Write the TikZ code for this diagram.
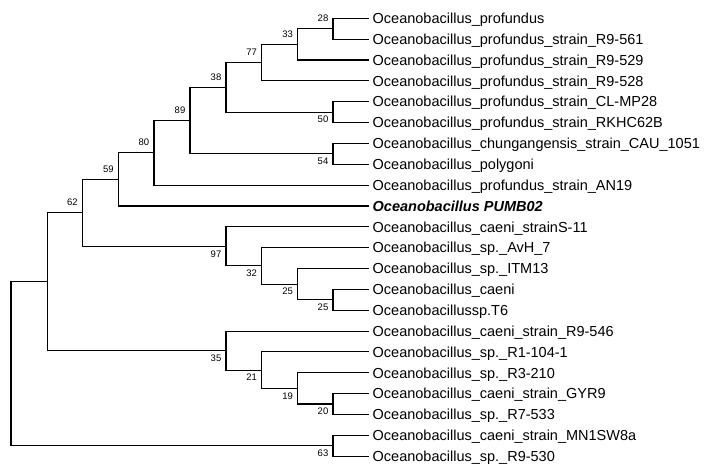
\documentclass[tikz,border=0pt]{standalone}
\usepackage{fontspec}
\setmainfont{Liberation Sans}
\begin{document}
\begin{tikzpicture}[x=1pt,y=-1pt,
  br/.style={draw=black,line width=1.1pt},
  leaf/.style={anchor=west,inner xsep=3.5pt,inner ysep=0pt,text height=10.5pt,text depth=0pt,font=\fontsize{14.5}{16}\selectfont},
  bs/.style={inner sep=0pt,font=\fontsize{9.5}{11}\selectfont},
  bsa/.style={bs,xshift=-10pt,yshift=10.3pt},
  bsb/.style={bs,xshift=-10pt,yshift=-7.5pt}]
\useasboundingbox (0,0) rectangle (710,474);
% leaves
\node[leaf] (L0)  at (369,18.3)   {Oceanobacillus\_profundus};
\node[leaf] (L1)  at (369,39.15)  {Oceanobacillus\_profundus\_strain\_R9-561};
\node[leaf] (L2)  at (369,60.0)   {Oceanobacillus\_profundus\_strain\_R9-529};
\node[leaf] (L3)  at (369,80.85)  {Oceanobacillus\_profundus\_strain\_R9-528};
\node[leaf] (L4)  at (369,101.7)  {Oceanobacillus\_profundus\_strain\_CL-MP28};
\node[leaf] (L5)  at (369,122.55) {Oceanobacillus\_profundus\_strain\_RKHC62B};
\node[leaf] (L6)  at (369,143.4)  {Oceanobacillus\_chungangensis\_strain\_CAU\_1051};
\node[leaf] (L7)  at (369,164.25) {Oceanobacillus\_polygoni};
\node[leaf] (L8)  at (369,185.1)  {Oceanobacillus\_profundus\_strain\_AN19};
\node[leaf] (L9)  at (369,205.95) {\bfseries\itshape Oceanobacillus PUMB02};
\node[leaf] (L10) at (369,226.8)  {Oceanobacillus\_caeni\_strainS-11};
\node[leaf] (L11) at (369,247.65) {Oceanobacillus\_sp.\_AvH\_7};
\node[leaf] (L12) at (369,268.5)  {Oceanobacillus\_sp.\_ITM13};
\node[leaf] (L13) at (369,289.35) {Oceanobacillus\_caeni};
\node[leaf] (L14) at (369,310.2)  {Oceanobacillussp.T6};
\node[leaf] (L15) at (369,331.05) {Oceanobacillus\_caeni\_strain\_R9-546};
\node[leaf] (L16) at (369,351.9)  {Oceanobacillus\_sp.\_R1-104-1};
\node[leaf] (L17) at (369,372.75) {Oceanobacillus\_sp.\_R3-210};
\node[leaf] (L18) at (369,393.6)  {Oceanobacillus\_caeni\_strain\_GYR9};
\node[leaf] (L19) at (369,414.45) {Oceanobacillus\_sp.\_R7-533};
\node[leaf] (L20) at (369,435.3)  {Oceanobacillus\_caeni\_strain\_MN1SW8a};
\node[leaf] (L21) at (369,456.15) {Oceanobacillus\_sp.\_R9-530};
% internal nodes
\coordinate (n28)  at (333,28.725);
\coordinate (n33)  at (297.7,44.36);
\coordinate (n77)  at (261.7,62.61);
\coordinate (n50)  at (333,112.125);
\coordinate (n38)  at (226,87.37);
\coordinate (n54)  at (333,153.825);
\coordinate (n89)  at (190,120.6);
\coordinate (n80)  at (154,152.85);
\coordinate (n59)  at (118.3,179.4);
\coordinate (n25b) at (333,299.775);
\coordinate (n25a) at (297.7,284.14);
\coordinate (n32)  at (261.7,265.9);
\coordinate (n97)  at (226,246.35);
\coordinate (n62)  at (82.3,212.9);
\coordinate (n20)  at (333,404.0);
\coordinate (n19)  at (297.7,388.4);
\coordinate (n21)  at (261.7,370.15);
\coordinate (n35)  at (226,350.6);
\coordinate (nA)   at (47.7,281.75);
\coordinate (n63)  at (333,445.7);
\coordinate (root) at (11,363.7);
% branches
\draw[br] (n28) |- (L0.west) (n28) |- (L1.west);
\draw[br] (n33) |- (n28) (n33) |- (L2.west);
\draw[br] (n77) |- (n33) (n77) |- (L3.west);
\draw[br] (n50) |- (L4.west) (n50) |- (L5.west);
\draw[br] (n38) |- (n77) (n38) |- (n50);
\draw[br] (n54) |- (L6.west) (n54) |- (L7.west);
\draw[br] (n89) |- (n38) (n89) |- (n54);
\draw[br] (n80) |- (n89) (n80) |- (L8.west);
\draw[br] (n59) |- (n80) (n59) |- (L9.west);
\draw[br] (n25b) |- (L13.west) (n25b) |- (L14.west);
\draw[br] (n25a) |- (L12.west) (n25a) |- (n25b);
\draw[br] (n32) |- (L11.west) (n32) |- (n25a);
\draw[br] (n97) |- (L10.west) (n97) |- (n32);
\draw[br] (n62) |- (n59) (n62) |- (n97);
\draw[br] (n20) |- (L18.west) (n20) |- (L19.west);
\draw[br] (n19) |- (L17.west) (n19) |- (n20);
\draw[br] (n21) |- (L16.west) (n21) |- (n19);
\draw[br] (n35) |- (L15.west) (n35) |- (n21);
\draw[br] (nA) |- (n62) (nA) |- (n35);
\draw[br] (n63) |- (L20.west) (n63) |- (L21.west);
\draw[br] (root) |- (nA) (root) |- (n63);
% bootstrap values
\node[bsa] (b28) at (n28) {28};
\node[bsa] (b33) at (n33) {33};
\node[bsa] (b77) at (n77) {77};
\node[bsa] (b38) at (n38) {38};
\node[bsa] (b89) at (n89) {89};
\node[bsa] (b80) at (n80) {80};
\node[bsa] (b59) at (n59) {59};
\node[bsa] (b62) at (n62) {62};
\node[bsb] (b50) at (n50) {50};
\node[bsb] (b54) at (n54) {54};
\node[bsb] (b97) at (n97) {97};
\node[bsb] (b32) at (n32) {32};
\node[bsb] (b25a) at (n25a) {25};
\node[bsb] (b25b) at (n25b) {25};
\node[bsb] (b35) at (n35) {35};
\node[bsb] (b21) at (n21) {21};
\node[bsb] (b19) at (n19) {19};
\node[bsb] (b20) at (n20) {20};
\node[bsb] (b63) at (n63) {63};
\end{tikzpicture}
\end{document}
